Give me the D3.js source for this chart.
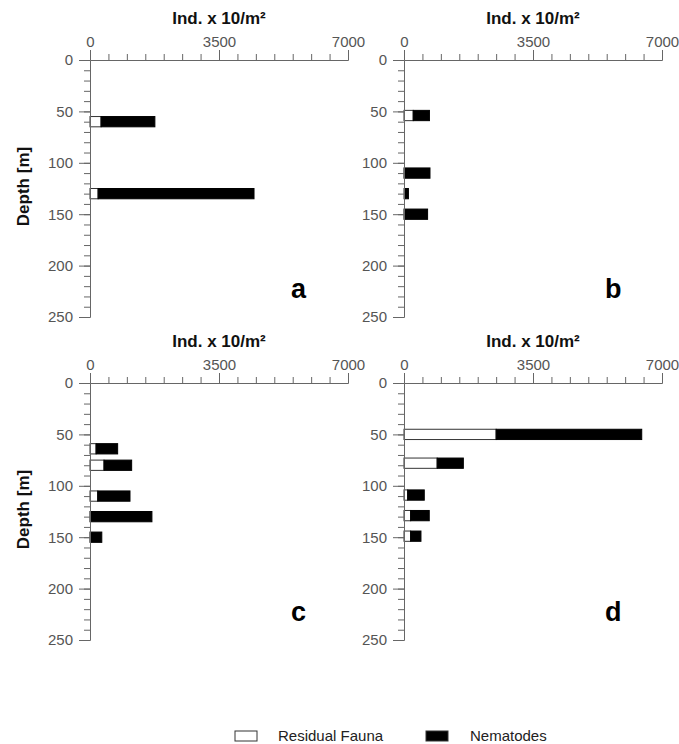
<!DOCTYPE html>
<html>
<head>
<meta charset="utf-8">
<script src="https://cdn.jsdelivr.net/npm/d3@7"></script>
<style>
  html, body { margin: 0; padding: 0; background: #fff; }
  svg { display: block; font-family: "Liberation Sans", Arial, sans-serif; }
  .tick text { fill: #555; font-size: 15px; }
  .domain, .tick line { stroke: #666; }
</style>
</head>
<body>
<svg id="chart" width="679" height="744"></svg>
<script>
// Station panels and sampled depths (m)
const panels = ["a", "b", "c", "d"];
const depthsA = [60, 130];
const depthsB = [54, 110, 130, 150];
const depthsC = [64, 80, 110, 130, 150];
const depthsD = [50, 78, 109, 129, 149];

// Abundance (Ind. x 10/m²) per depth
const residualA = [300, 220];
const nematodesA = [1460, 4230];
const residualB = [250, 0, 20, 0];
const nematodesB = [440, 705, 100, 640];
const residualC = [165, 380, 210, 0, 0];
const nematodesC = [585, 750, 875, 1680, 320];
const residualD = [2500, 900, 100, 180, 180];
const nematodesD = [3950, 710, 450, 505, 280];

// Axis ticks
const xMajorTicks = [0, 3500, 7000];
const yMajorTicks = [0, 50, 100, 150, 200, 250];
const seriesNames = ["Residual Fauna", "Nematodes"];

const depthSets = [depthsA, depthsB, depthsC, depthsD];
const residualSets = [residualA, residualB, residualC, residualD];
const nematodeSets = [nematodesA, nematodesB, nematodesC, nematodesD];

const svg = d3.select("#chart");
const plotW = 258, plotH = 257;
const origins = [[90, 60], [404, 60], [90, 383], [404, 383]];
const barHalf = 5; // half bar thickness, in metres of depth

const x = d3.scaleLinear().domain([0, 7000]).range([0, plotW]);
const y = d3.scaleLinear().domain([0, 250]).range([0, plotH]);

panels.forEach((letter, i) => {
  const [ox, oy] = origins[i];
  const g = svg.append("g").attr("transform", `translate(${ox},${oy})`);

  // Bars: residual fauna from zero, nematodes stacked after it
  const rows = depthSets[i].map((d, k) => ({
    depth: d, res: residualSets[i][k], nem: nematodeSets[i][k]
  }));
  const bars = g.append("g");
  bars.selectAll("rect.res").data(rows.filter(r => r.res > 0)).join("rect")
    .attr("class", "res")
    .attr("x", x(0))
    .attr("y", r => y(r.depth - barHalf))
    .attr("width", r => x(r.res) - x(0))
    .attr("height", y(2 * barHalf) - y(0))
    .attr("fill", "#fff").attr("stroke", "#333").attr("stroke-width", 1);
  bars.selectAll("rect.nem").data(rows).join("rect")
    .attr("class", "nem")
    .attr("x", r => x(r.res))
    .attr("y", r => y(r.depth - barHalf))
    .attr("width", r => x(r.res + r.nem) - x(r.res))
    .attr("height", y(2 * barHalf) - y(0))
    .attr("fill", "#000").attr("stroke", "#000").attr("stroke-width", 1);

  // Top abundance axis: minor ticks every 500, labelled majors
  g.append("g")
    .call(d3.axisTop(x).tickValues(d3.range(0, 7001, 500)).tickSize(6).tickSizeOuter(0).tickFormat(""));
  g.append("g")
    .call(d3.axisTop(x).tickValues(xMajorTicks).tickSize(10).tickSizeOuter(0).tickPadding(3).tickFormat(d3.format("d")));

  // Left depth axis: minor ticks every 10 m, labelled majors
  g.append("g")
    .call(d3.axisLeft(y).tickValues(d3.range(0, 251, 10)).tickSize(6).tickSizeOuter(0).tickFormat(""));
  g.append("g")
    .call(d3.axisLeft(y).tickValues(yMajorTicks).tickSize(11).tickSizeOuter(0).tickPadding(6).tickFormat(d3.format("d")));

  g.selectAll(".tick text").attr("font-family", null).attr("font-size", null);

  // Axis titles
  g.append("text")
    .attr("x", plotW / 2).attr("y", -36)
    .attr("text-anchor", "middle")
    .attr("font-size", 17).attr("font-weight", "bold").attr("fill", "#111")
    .text("Ind. x 10/m²");

  if (i % 2 === 0) {
    g.append("text")
      .attr("transform", `translate(${29 - ox},${plotH / 2 - 2}) rotate(-90)`)
      .attr("text-anchor", "middle")
      .attr("font-size", 17).attr("font-weight", "bold").attr("fill", "#111")
      .text("Depth [m]");
  }

  // Panel letter
  g.append("text")
    .attr("x", 201).attr("y", 238)
    .attr("font-size", 27).attr("font-weight", "bold").attr("fill", "#000")
    .text(letter);
});

// Legend
const legend = svg.append("g");
const legendItems = [
  { name: seriesNames[0], fill: "#fff", rx: 235, tx: 278 },
  { name: seriesNames[1], fill: "#000", rx: 426, tx: 470 }
];
legendItems.forEach(it => {
  legend.append("rect")
    .attr("x", it.rx).attr("y", 731).attr("width", 22).attr("height", 10)
    .attr("fill", it.fill).attr("stroke", "#333").attr("stroke-width", 1);
  legend.append("text")
    .attr("x", it.tx).attr("y", 740.5)
    .attr("font-size", 15).attr("fill", "#222")
    .text(it.name);
});
</script>
</body>
</html>
